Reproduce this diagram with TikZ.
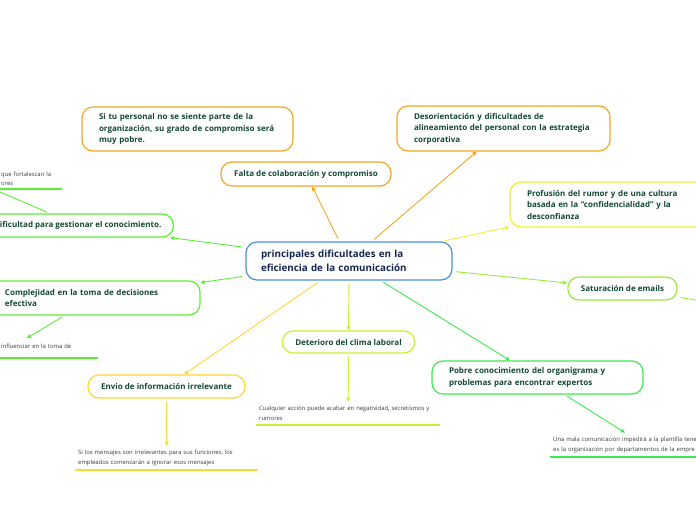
\documentclass[tikz,border=0pt]{standalone}
\usepackage{fontspec}
\setmainfont{Open Sans}
\usepackage{xcolor}
\usetikzlibrary{arrows.meta}
\definecolor{mapblue}{RGB}{74,144,217}
\definecolor{maporange}{RGB}{245,166,35}
\definecolor{mapyellow}{RGB}{240,240,50}
\definecolor{mapgold}{RGB}{255,214,50}
\definecolor{maplime}{RGB}{200,240,50}
\definecolor{mapgrass}{RGB}{150,235,60}
\definecolor{mapgreen}{RGB}{90,240,50}
\definecolor{mapemerald}{RGB}{60,235,80}
\definecolor{nodetext}{RGB}{20,72,52}
\definecolor{roottext}{RGB}{22,38,80}
\definecolor{leaftext}{RGB}{60,60,60}

\begin{document}
\begin{tikzpicture}[x=1pt,y=-1pt,
  box/.style={draw=#1,fill=white,line width=1.2pt,rounded corners=11pt,inner xsep=13pt,inner ysep=0pt,text=nodetext,font=\fontsize{8}{11.5}\selectfont\bfseries},
  wide/.style={box=#1,inner xsep=17pt,align=left},
  leaf/.style={inner xsep=3pt,inner ysep=2pt,align=left,anchor=south west,text=leaftext,font=\fontsize{5.9}{9.5}\selectfont},
  rule/.style={draw=#1,line width=1.3pt},
  link/.style={draw=#1,line width=0.9pt,shorten <=3pt,-{Triangle[length=4pt,width=4pt]}}]
\useasboundingbox (0,0) rectangle (696,520);
\clip (0,0) rectangle (696,520);
\node[wide=mapblue,text width=176pt,minimum height=38pt,inner xsep=15pt,text=roottext,font=\fontsize{9.8}{14}\selectfont\bfseries] (root) at (349,261) {principales dificultades en la\\eficiencia de la comunicación};
\node[wide=maporange,text width=177pt,minimum height=44pt] (personal) at (187.5,129) {Si tu personal no se siente parte de la\\organización, su grado de compromiso será\\muy pobre.};
\node[box=maporange,minimum width=170pt,minimum height=24pt] (falta) at (306,174) {Falta de colaboración y compromiso};
\node[wide=maporange,text width=179pt,minimum height=45pt] (desorient) at (503.5,128.5) {Desorientación y dificultades de\\alineamiento del personal con la estrategia\\corporativa};
\node[wide=mapyellow,text width=178pt,minimum height=45pt] (rumor) at (616,204.5) {Profusión del rumor y de una cultura\\basada en la “confidencialidad” y la\\desconfianza};
\node[box=mapgreen,anchor=east,minimum height=23pt,inner xsep=12pt] (gestion) at (174,225.5) {Dificultad para gestionar el conocimiento.};
\node[wide=mapgreen,text width=178pt,minimum height=34pt] (decision) at (94,298) {Complejidad en la toma de decisiones\\efectiva};
\node[box=mapgrass,minimum width=109pt,minimum height=23pt] (emails) at (622.5,288.5) {Saturación de emails};
\node[box=maplime,minimum width=131pt,minimum height=22pt] (clima) at (348.5,342) {Deterioro del clima laboral};
\node[box=mapgold,minimum width=157pt,minimum height=23pt] (envio) at (166.5,386.5) {Envio de información irrelevante};
\node[wide=mapemerald,text width=177pt,minimum height=33pt] (organi) at (537.5,377.5) {Pobre conocimiento del organigrama y\\problemas para encontrar expertos};
\node[leaf,text width=58pt,minimum height=20pt] (fortal) at (-2,189) {que fortalescan la\\ores};
\node[leaf,text width=94pt,minimum height=24pt] (influ) at (-2,358) {influenciar en la toma de};
\node[leaf,text width=178pt,minimum height=23pt] (acciones) at (256,425) {Cualquier acción puede acabar en negatividad, secretismos y\\rumores};
\node[leaf,text width=177pt,minimum height=24pt] (ignorar) at (75,470) {Si los mensajes son irrelevantes para sus funciones, los\\empleados comenzarán a ignorar esos mensajes};
\node[leaf,text width=182pt,minimum height=24pt] (plantilla) at (550,457) {Una mala comunicación impedirá a la plantilla tene\\es la organización por departamentos de la empre};
\draw[rule=mapgreen] (fortal.south west) -- (fortal.south east);
\draw[rule=mapgreen] (influ.south west) -- (influ.south east);
\draw[rule=maplime] (acciones.south west) -- (acciones.south east);
\draw[rule=mapgold] (ignorar.south west) -- (ignorar.south east);
\draw[rule=mapemerald] (plantilla.south west) -- (plantilla.south east);
\coordinate (fortalin) at (-30,179);
\coordinate (influin) at (27,338);
\coordinate (emailsout) at (740,307);
\draw[link=maporange] (root) -- (falta);
\draw[link=maporange] (root) -- (desorient);
\draw[link=mapyellow] (root) -- (rumor);
\draw[link=mapgreen] (root) -- (gestion);
\draw[link=mapgreen] (root) -- (decision);
\draw[link=mapgrass] (root) -- (emails);
\draw[link=maplime] (root) -- (clima);
\draw[link=mapgold] (root) -- (envio);
\draw[link=mapemerald] (root) -- (organi);
\draw[link=mapgreen] (gestion) -- (fortalin);
\draw[link=mapgreen] (decision) -- (influin);
\draw[link=mapgrass] (emails) -- (emailsout);
\draw[link=maplime] (clima) -- (acciones);
\draw[link=mapgold] (envio) -- (ignorar);
\draw[link=mapemerald] (organi) -- (plantilla);
\end{tikzpicture}
\end{document}
